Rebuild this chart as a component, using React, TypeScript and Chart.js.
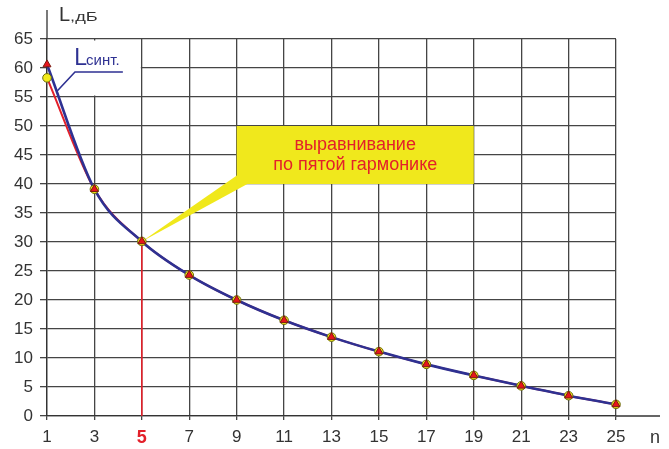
import React, { useEffect, useRef } from "react";
import { Chart, registerables } from "chart.js";
Chart.register(...registerables);

const harmonics = [1, 3, 5, 7, 9, 11, 13, 15, 17, 19, 21, 23, 25];
const measuredLevels = [58.3, 39.1, 30.1, 24.3, 20.0, 16.5, 13.6, 11.1, 8.9, 7.0, 5.2, 3.5, 2.0];
const synthLevels = [60.6, 39.1, 30.1, 24.3, 20.0, 16.5, 13.6, 11.1, 8.9, 7.0, 5.2, 3.5, 2.0];
const yMin = 0;
const yMax = 65;
const yStep = 5;
const alignHarmonic = 5;
const calloutLines = ["выравнивание", "по пятой гармонике"];
const seriesLabelMain = "L";
const seriesLabelSub = "синт.";
const yTitleMain = "L";
const yTitleSub = ",дБ";
const xTitle = "n";

const FONT = '"Liberation Sans", Arial, sans-serif';
const GRID = "#454545";
const TEXT = "#333333";
const RED = "#e3202a";
const BLUE = "#2e3192";

const pts = (vals: number[]) => harmonics.map((n, i) => ({ x: n, y: vals[i] }));

const decor = {
  id: "decor",
  beforeDatasetsDraw(chart: any) {
    const { ctx, chartArea, scales } = chart;
    const xs = scales.x;
    const ys = scales.y;
    const X = (v: number) => xs.getPixelForValue(v);
    const Y = (v: number) => ys.getPixelForValue(v);
    ctx.save();
    // white background behind series label
    ctx.fillStyle = "#ffffff";
    ctx.fillRect(X(1) + 1, Y(65) + 1.5, X(5) - X(1) - 2, Y(55) - Y(65) - 3);
    // axis extensions
    ctx.strokeStyle = "#333";
    ctx.lineWidth = 1.3;
    ctx.beginPath();
    ctx.moveTo(chartArea.left, chartArea.top);
    ctx.lineTo(chartArea.left, chartArea.top - 29);
    ctx.moveTo(chartArea.right, chartArea.bottom);
    ctx.lineTo(chartArea.right + 44, chartArea.bottom);
    ctx.stroke();
    // red vertical at alignment harmonic
    ctx.strokeStyle = RED;
    ctx.lineWidth = 1.6;
    ctx.beginPath();
    ctx.moveTo(X(alignHarmonic), Y(0));
    ctx.lineTo(X(alignHarmonic), Y(30.1));
    ctx.stroke();
    // callout tail
    ctx.fillStyle = "#f0e81c";
    ctx.beginPath();
    ctx.moveTo(X(alignHarmonic), Y(30.1));
    ctx.lineTo(X(9.05), Y(41.6));
    ctx.lineTo(X(9.45), Y(40));
    ctx.closePath();
    ctx.fill();
    // callout box
    ctx.fillRect(X(9), Y(50), X(19) - X(9), Y(40) - Y(50));
    ctx.fillStyle = RED;
    ctx.font = "18px " + FONT;
    ctx.textAlign = "center";
    ctx.textBaseline = "middle";
    const cx = (X(9) + X(19)) / 2;
    const cy = (Y(50) + Y(40)) / 2;
    ctx.fillText(calloutLines[0], cx, cy - 10);
    ctx.fillText(calloutLines[1], cx, cy + 10);
    // series label
    ctx.strokeStyle = BLUE;
    ctx.lineWidth = 1.6;
    ctx.beginPath();
    ctx.moveTo(X(4.2), Y(59.3));
    ctx.lineTo(X(2.18), Y(59.3));
    ctx.lineTo(X(1.42), Y(56));
    ctx.stroke();
    ctx.fillStyle = BLUE;
    ctx.textAlign = "left";
    ctx.textBaseline = "alphabetic";
    ctx.font = "23px " + FONT;
    const lx = X(2.15);
    const ly = Y(60.6);
    ctx.fillText(seriesLabelMain, lx, ly);
    const lw = ctx.measureText(seriesLabelMain).width;
    ctx.font = "15px " + FONT;
    ctx.fillText(seriesLabelSub, lx + lw - 1, ly);
    // axis titles
    ctx.fillStyle = TEXT;
    ctx.font = "20px " + FONT;
    const tx = chartArea.left + 12;
    const ty = chartArea.top - 18;
    ctx.fillText(yTitleMain, tx, ty);
    const tw = ctx.measureText(yTitleMain).width;
    ctx.save();
    ctx.translate(tx + tw, ty);
    ctx.scale(1.4, 1);
    ctx.font = "13px " + FONT;
    ctx.fillText(yTitleSub, 0, 0);
    ctx.restore();
    ctx.font = "18px " + FONT;
    ctx.fillText(xTitle, chartArea.right + 34, chartArea.bottom + 27);
    ctx.restore();
  },
};

export default function App() {
  const ref = useRef<HTMLCanvasElement | null>(null);
  useEffect(() => {
    if (!ref.current) return;
    const chart = new Chart(ref.current, {
      type: "line",
      data: {
        datasets: [
          {
            data: pts(measuredLevels),
            borderColor: RED,
            borderWidth: 2,
            pointRadius: 0,
            cubicInterpolationMode: "monotone",
            clip: false,
            order: 4,
          } as any,
          {
            data: pts(synthLevels),
            borderColor: BLUE,
            borderWidth: 2.6,
            pointRadius: 0,
            cubicInterpolationMode: "monotone",
            clip: false,
            order: 3,
          } as any,
          {
            data: pts(measuredLevels),
            showLine: false,
            pointStyle: "circle",
            pointRadius: 4.3,
            pointBackgroundColor: "#f3ea1a",
            pointBorderColor: "#6a6a10",
            pointBorderWidth: 1,
            clip: false,
            order: 2,
          } as any,
          {
            data: pts(synthLevels),
            showLine: false,
            pointStyle: "triangle",
            pointRadius: 4.6,
            pointBackgroundColor: "#e8141c",
            pointBorderColor: "#7a1a10",
            pointBorderWidth: 1,
            clip: false,
            order: 1,
          } as any,
        ],
      },
      options: {
        responsive: false,
        animation: false,
        events: [],
        layout: { padding: { top: 39, right: 53, left: 0, bottom: 0 } },
        plugins: { legend: { display: false }, tooltip: { enabled: false } },
        scales: {
          x: {
            type: "linear",
            min: harmonics[0],
            max: harmonics[harmonics.length - 1],
            afterFit: (s: any) => {
              s.height = 33;
            },
            border: { display: true, color: "#333", width: 1.3 },
            grid: { color: GRID, lineWidth: 1.3, tickLength: 4 },
            ticks: {
              stepSize: 2,
              padding: 7,
              maxRotation: 0,
              autoSkip: false,
              color: (c: any) => (c.tick && c.tick.value === alignHarmonic ? RED : TEXT),
              font: (c: any) =>
                c.tick && c.tick.value === alignHarmonic
                  ? { family: FONT, size: 18, weight: "bold" }
                  : { family: FONT, size: 17 },
            },
          },
          y: {
            min: yMin,
            max: yMax,
            afterFit: (s: any) => {
              s.width = 47;
            },
            border: { display: true, color: "#333", width: 1.3 },
            grid: { color: GRID, lineWidth: 1.3, tickLength: 7 },
            ticks: {
              stepSize: yStep,
              padding: 7,
              color: TEXT,
              font: { family: FONT, size: 17 },
            },
          },
        },
      },
      plugins: [decor],
    } as any);
    return () => chart.destroy();
  }, []);
  return (
    <div style={{ position: "fixed", left: 0, top: 0, width: 669, height: 449, background: "#fff" }}>
      <canvas ref={ref} width={669} height={449} />
    </div>
  );
}
